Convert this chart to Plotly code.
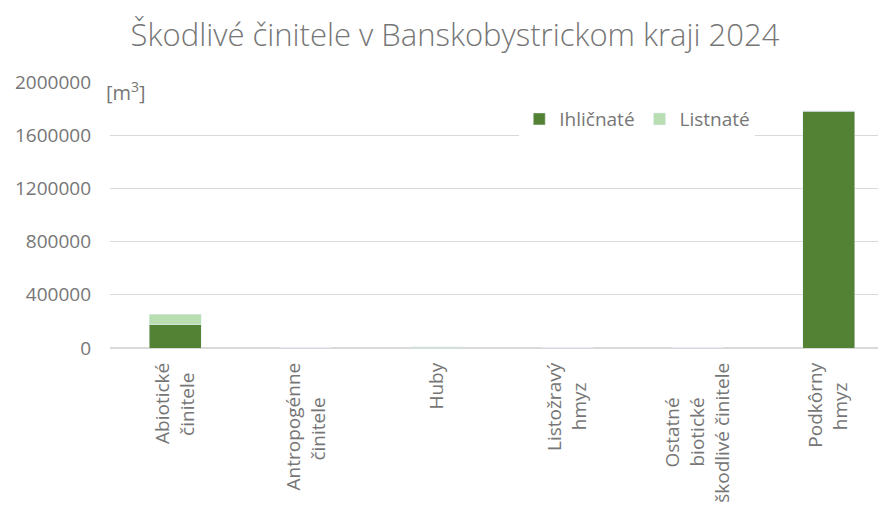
import plotly.graph_objects as go

NB = "\u00a0"
categories = ["Abiotické<br>činitele" + NB * 2,
              "Antropogénne<br>činitele" + NB * 7,
              "Huby",
              "Listožravý<br>hmyz" + NB * 4,
              "Ostatné" + NB * 7 + "<br>biotické" + NB * 7 + "<br>škodlivé činitele",
              "Podkôrny<br>hmyz" + NB * 4]
ihlicnate = [175000, 1500, 3000, 1000, 500, 1780000]
listnate = [78000, 1000, 8000, 2000, 300, 2000]
tick_vals = [0, 400000, 800000, 1200000, 1600000, 2000000]
tick_text = ["0", "400000", "800000", "1200000", "1600000", "2000000"]

font_fam = "'Open Sans', sans-serif"
grey = "#767676"

fig = go.Figure()
fig.add_trace(go.Bar(x=categories, y=ihlicnate, name="Ihličnaté", marker_color="#548235"))
fig.add_trace(go.Bar(x=categories, y=listnate, name="Listnaté", marker_color="#B8DEB2"))

fig.update_layout(
    barmode="stack",
    bargap=0.6,
    width=886, height=505,
    paper_bgcolor="white", plot_bgcolor="white",
    margin=dict(l=102, r=0, t=74, b=165),
    title=dict(text="Škodlivé činitele v Banskobystrickom kraji 2024", x=0.5045, xanchor="center",
               y=0.947, yanchor="middle",
               font=dict(family=font_fam, size=31, color=grey, weight=300)),
    font=dict(family=font_fam, color=grey),
    legend=dict(orientation="h", x=0.522, y=0.932, xanchor="left", yanchor="top",
                bgcolor="white", font=dict(size=19, color=grey), traceorder="normal"),
    showlegend=True,
)
fig.update_yaxes(range=[0, 2000000], tickvals=tick_vals, ticktext=tick_text,
                 showgrid=True, gridcolor="#D9D9D9", gridwidth=1,
                 zeroline=True, zerolinecolor="#D9D9D9", showline=False,
                 tickfont=dict(size=19, color=grey), ticks="", ticklabelstandoff=18)
fig.update_xaxes(tickangle=-90, tickfont=dict(size=19, color=grey), showline=False,
                 ticks="", showgrid=False, ticklabelstandoff=10)
fig.add_annotation(text="[m<sup>3</sup>]", xref="paper", yref="paper", x=-0.008, y=1.026,
                   xanchor="left", yanchor="top", showarrow=False,
                   font=dict(size=20, color=grey, family=font_fam))

fig.write_html("out.html")
